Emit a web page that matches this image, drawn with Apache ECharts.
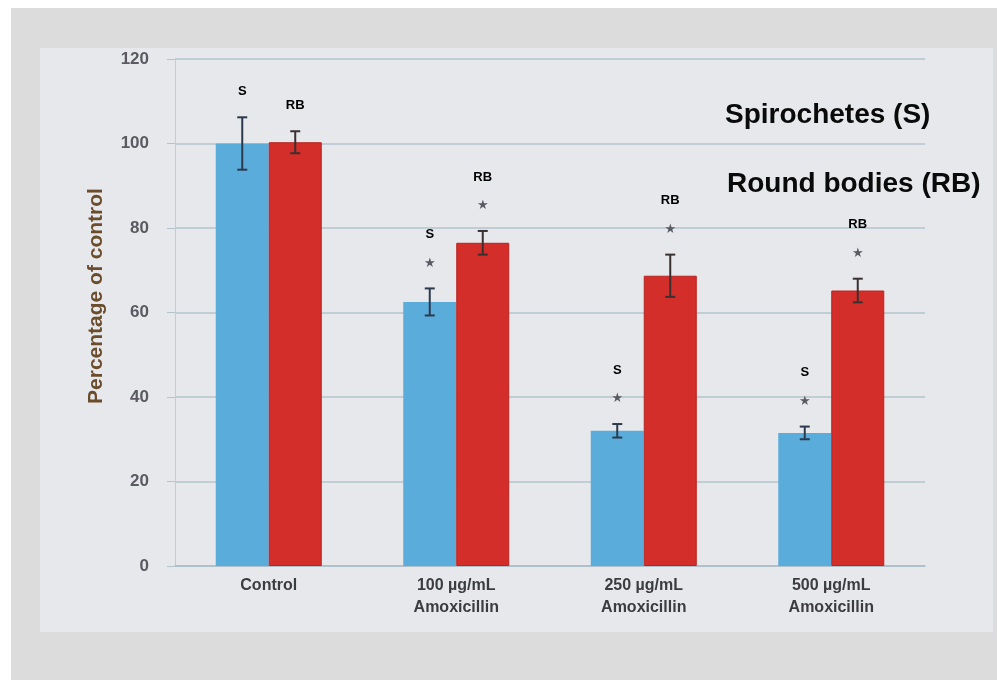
<!DOCTYPE html>
<html>
<head>
<meta charset="utf-8">
<style>
  html, body { margin: 0; padding: 0; background: #ffffff; }
  #chart { width: 997px; height: 680px; }
</style>
<script src="https://cdn.jsdelivr.net/npm/echarts@6/dist/echarts.min.js"></script>
</head>
<body>
<div id="chart"></div>
<script>
// Treatment groups along the x axis
const categories = ['Control', '100 \u00b5g/mL\nAmoxicillin', '250 \u00b5g/mL\nAmoxicillin', '500 \u00b5g/mL\nAmoxicillin'];
// Mean percentage of control for each morphology
const spirochetes = [100, 62.5, 32, 31.5];
const roundBodies = [100.3, 76.5, 68.7, 65.2];
// Error (half-range) for each bar
const spirochetesErr = [6.2, 3.2, 1.6, 1.5];
const roundBodiesErr = [2.6, 2.8, 5.0, 2.8];
// Significance flags (star above the error bar)
const spirochetesSig = [false, true, true, true];
const roundBodiesSig = [false, true, true, true];
// Y axis ticks
const yTicks = { min: 0, max: 120, interval: 20 };

const BAR_W = 53;
const blue = '#5aaddb';
const red = '#d42e2a';

function errorSeries(name, values, errs, sig, tag, offset, whiskerColor) {
  return {
    type: 'custom',
    name: name + ' error',
    z: 5,
    data: values.map((v, i) => [i, v, errs[i], sig[i] ? 1 : 0]),
    renderItem: function (params, api) {
      const idx = api.value(0);
      const v = api.value(1);
      const e = api.value(2);
      const s = api.value(3);
      const top = api.coord([idx, v + e]);
      const bot = api.coord([idx, v - e]);
      const x = top[0] + offset;
      const cap = 5;
      const children = [
        { type: 'line', shape: { x1: x, y1: top[1], x2: x, y2: bot[1] }, style: { stroke: whiskerColor, lineWidth: 2 } },
        { type: 'line', shape: { x1: x - cap, y1: top[1], x2: x + cap, y2: top[1] }, style: { stroke: whiskerColor, lineWidth: 2 } },
        { type: 'line', shape: { x1: x - cap, y1: bot[1], x2: x + cap, y2: bot[1] }, style: { stroke: whiskerColor, lineWidth: 2 } }
      ];
      let labelY = top[1] - 26;
      if (s) {
        const starY = top[1] - 25;
        children.push({
          type: 'text',
          style: { x: x, y: starY, text: '\u2605', fill: '#5a5a62', font: '13px "DejaVu Sans"', align: 'center', verticalAlign: 'middle' }
        });
        labelY = starY - 29;
      }
      children.push({
        type: 'text',
        style: { x: x, y: labelY, text: tag, fill: '#000', font: 'bold 13px "Liberation Sans", Arial', align: 'center', verticalAlign: 'middle' }
      });
      return { type: 'group', children: children };
    }
  };
}

const chart = echarts.init(document.getElementById('chart'), null, { renderer: 'canvas' });

chart.setOption({
  animation: false,
  backgroundColor: '#ffffff',
  graphic: [
    { type: 'rect', z: -10, shape: { x: 11, y: 8, width: 986, height: 672 }, style: { fill: '#dcdcdc' } },
    { type: 'rect', z: -9, shape: { x: 40, y: 48, width: 953, height: 584 }, style: { fill: '#e6e8ec' } },
    { type: 'text', x: 725, y: 115, style: { text: 'Spirochetes (S)', fill: '#0a0a0a', font: 'bold 28px "Liberation Sans", Arial', verticalAlign: 'middle' } },
    { type: 'text', x: 727, y: 184, style: { text: 'Round bodies (RB)', fill: '#0a0a0a', font: 'bold 28px "Liberation Sans", Arial', verticalAlign: 'middle' } },
    { type: 'text', x: 96, y: 296, rotation: Math.PI / 2,
      style: { text: 'Percentage of control', fill: '#6b4d2c', font: 'bold 21px "Liberation Sans", Arial', align: 'center', verticalAlign: 'middle' } }
  ],
  grid: { left: 175, right: 72, top: 59, bottom: 114 },
  xAxis: {
    type: 'category',
    data: categories,
    axisLine: { lineStyle: { color: '#a9bcc6', width: 1.5 } },
    axisTick: { show: false },
    axisLabel: {
      color: '#3c3c40',
      fontFamily: '"Liberation Sans", Arial',
      fontWeight: 'bold',
      fontSize: 16,
      lineHeight: 22,
      margin: 9
    }
  },
  yAxis: {
    type: 'value',
    min: yTicks.min,
    max: yTicks.max,
    interval: yTicks.interval,
    axisLine: { show: true, lineStyle: { color: '#c4ccd2', width: 1 } },
    axisTick: { show: true, length: 8, lineStyle: { color: '#b4c4cc' } },
    axisLabel: {
      color: '#5a5a60',
      fontFamily: '"Liberation Sans", Arial',
      fontWeight: 'bold',
      fontSize: 17,
      margin: 26
    },
    splitLine: { lineStyle: { color: '#b4c4cc', width: 1.5 } }
  },
  series: [
    {
      name: 'Spirochetes (S)',
      type: 'bar',
      data: spirochetes,
      barWidth: BAR_W,
      barGap: '0%',
      itemStyle: { color: blue }
    },
    {
      name: 'Round bodies (RB)',
      type: 'bar',
      data: roundBodies,
      barWidth: BAR_W,
      barGap: '0%',
      itemStyle: { color: red, borderColor: '#b8221f', borderWidth: 1 }
    },
    errorSeries('Spirochetes (S)', spirochetes, spirochetesErr, spirochetesSig, 'S', -BAR_W / 2, '#2c3a4e'),
    errorSeries('Round bodies (RB)', roundBodies, roundBodiesErr, roundBodiesSig, 'RB', BAR_W / 2, '#3a3030')
  ]
});
</script>
</body>
</html>
